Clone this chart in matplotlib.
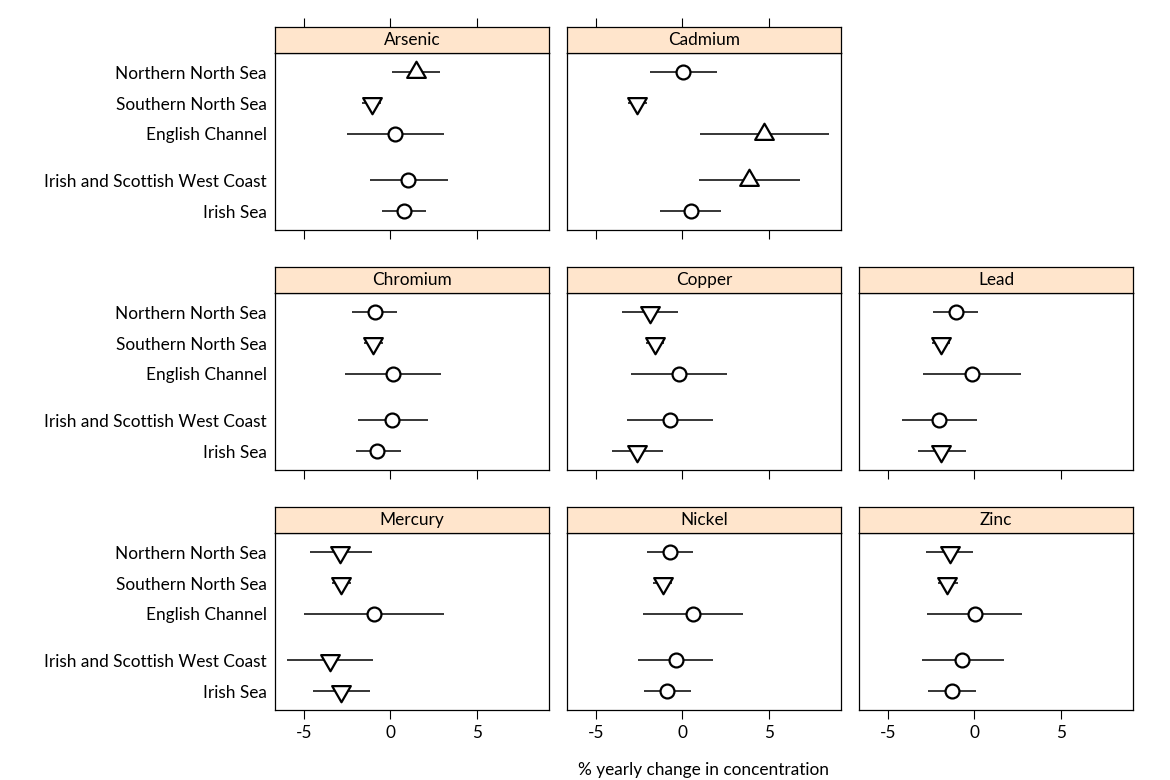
import numpy as np
import matplotlib.pyplot as plt
from matplotlib.path import Path

plt.rcParams['font.family'] = ['Lato', 'DejaVu Sans']
plt.rcParams['axes.unicode_minus'] = False

# regioni (dall'alto in basso nel pannello)
regions = ["Northern North Sea", "Southern North Sea", "English Channel",
           "Irish and Scottish West Coast", "Irish Sea"]

# stima e intervallo per ogni metallo, stesso ordine di regions
arsenic_est = [1.49, -1.08, 0.25, 1.04, 0.77]
arsenic_lo = [0.10, -1.64, -2.51, -1.20, -0.50]
arsenic_hi = [2.90, -0.52, 3.09, 3.32, 2.07]

cadmium_est = [0.06, -2.60, 4.73, 3.88, 0.48]
cadmium_lo = [-1.87, -3.13, 1.02, 0.98, -1.27]
cadmium_hi = [1.99, -2.03, 8.50, 6.80, 2.26]

chromium_est = [-0.91, -1.00, 0.14, 0.12, -0.75]
chromium_lo = [-2.22, -1.50, -2.64, -1.89, -2.00]
chromium_hi = [0.41, -0.44, 2.93, 2.16, 0.62]

copper_est = [-1.87, -1.58, -0.21, -0.73, -2.60]
copper_lo = [-3.47, -2.12, -2.99, -3.20, -4.05]
copper_hi = [-0.23, -1.06, 2.57, 1.76, -1.14]

lead_est = [-1.08, -1.93, -0.14, -2.07, -1.91]
lead_lo = [-2.37, -2.47, -2.95, -4.19, -3.26]
lead_hi = [0.21, -1.41, 2.68, 0.14, -0.50]

mercury_est = [-2.90, -2.86, -0.95, -3.47, -2.86]
mercury_lo = [-4.63, -3.38, -4.98, -5.98, -4.48]
mercury_hi = [-1.06, -2.26, 3.13, -0.98, -1.20]

nickel_est = [-0.71, -1.14, 0.60, -0.39, -0.88]
nickel_lo = [-2.04, -1.72, -2.27, -2.55, -2.23]
nickel_hi = [0.64, -0.60, 3.52, 1.80, 0.49]

zinc_est = [-1.43, -1.56, 0.02, -0.69, -1.28]
zinc_lo = [-2.78, -2.10, -2.72, -3.04, -2.66]
zinc_hi = [-0.06, -0.96, 2.78, 1.69, 0.11]

metals = ["Arsenic", "Cadmium", "Chromium", "Copper", "Lead",
          "Mercury", "Nickel", "Zinc"]
est = [arsenic_est, cadmium_est, chromium_est, copper_est, lead_est,
       mercury_est, nickel_est, zinc_est]
lo = [arsenic_lo, cadmium_lo, chromium_lo, copper_lo, lead_lo,
      mercury_lo, nickel_lo, zinc_lo]
hi = [arsenic_hi, cadmium_hi, chromium_hi, copper_hi, lead_hi,
      mercury_hi, nickel_hi, zinc_hi]

# posizione dei pannelli (riga, colonna)
grid = [(0, 0), (0, 1), (1, 0), (1, 1), (1, 2), (2, 0), (2, 1), (2, 2)]
ypos = [4.5, 3.5, 2.5, 1.0, 0.0]

# triangoli come in R (centrati sul baricentro)
tri_up = Path([(0, 1.555), (-1.347, -0.778), (1.347, -0.778), (0, 1.555)],
              [Path.MOVETO, Path.LINETO, Path.LINETO, Path.CLOSEPOLY])
tri_down = Path([(0, -1.555), (-1.347, 0.778), (1.347, 0.778), (0, -1.555)],
                [Path.MOVETO, Path.LINETO, Path.LINETO, Path.CLOSEPOLY])

W, H = 1170, 780
fig = plt.figure(figsize=(11.7, 7.8), dpi=100)

col_left = [275, 567, 859]
pw = 274
rows_px = [(26.7, 53.3, 230), (266.7, 293.3, 470), (506.7, 533.3, 710)]
xlim = (-6.68, 9.19)
strip_col = "#ffe5cc"
fs = 12.4

for k, name in enumerate(metals):
    r, c = grid[k]
    s_top, s_bot, p_bot = rows_px[r]
    x0 = col_left[c]
    ax = fig.add_axes([x0 / W, 1 - p_bot / H, pw / W, (p_bot - s_bot) / H])
    sx = fig.add_axes([x0 / W, 1 - s_bot / H, pw / W, (s_bot - s_top) / H])

    e = np.array(est[k]); l = np.array(lo[k]); h = np.array(hi[k])
    ax.hlines(ypos, l, h, color="black", lw=1.1, zorder=2)
    for i in range(len(e)):
        if l[i] > 0:
            m, ms = tri_up, 15.5
        elif h[i] < 0:
            m, ms = tri_down, 15.5
        else:
            m, ms = "o", 10
        ax.plot(e[i], ypos[i], marker=m, ms=ms, mfc="white", mec="black",
                mew=1.6, ls="none", zorder=3)

    ax.set_xlim(xlim)
    ax.set_ylim(-0.61, 5.11)
    ax.set_xticks([-5, 0, 5])
    ax.tick_params(axis="x", direction="out", length=6.5, width=0.8,
                   labelsize=fs, pad=4, labelbottom=(r == 2))
    if c == 0:
        ax.set_yticks(ypos)
        ax.set_yticklabels(regions, fontsize=fs)
        ax.tick_params(axis="y", length=0, pad=6)
    else:
        ax.set_yticks([])
    for sp in ax.spines.values():
        sp.set_linewidth(0.9)

    sx.set_facecolor(strip_col)
    sx.set_xlim(xlim)
    sx.set_yticks([])
    if r == 0:
        sx.set_xticks([-5, 0, 5])
        sx.tick_params(axis="x", bottom=False, top=True, labelbottom=False,
                       direction="out", length=6.5, width=0.8)
    else:
        sx.set_xticks([])
    for sp in sx.spines.values():
        sp.set_linewidth(0.9)
    sx.text(0.5, 0.5, name, transform=sx.transAxes, ha="center",
            va="center", fontsize=fs)

fig.text(703 / W, 1 - 770 / H, "% yearly change in concentration",
         ha="center", va="center", fontsize=fs)

fig.savefig("out.png", dpi=100)
